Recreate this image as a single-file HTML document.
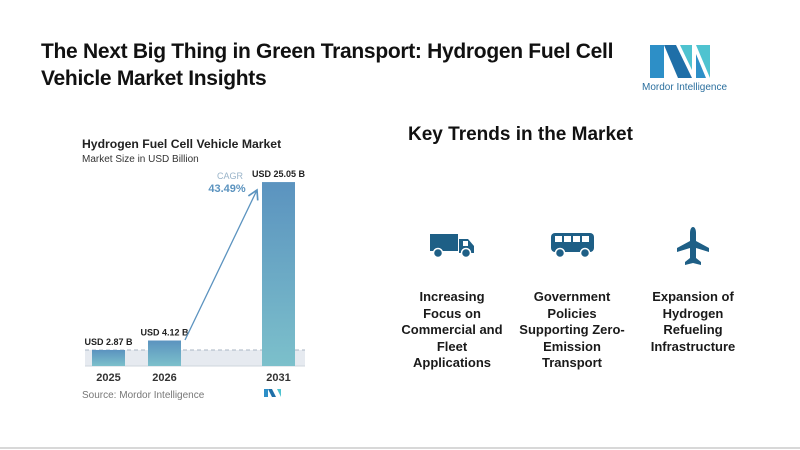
<!DOCTYPE html>
<html><head><meta charset="utf-8"><style>
body{margin:0;width:800px;height:450px;background:#fff;font-family:"Liberation Sans",sans-serif;overflow:hidden;position:relative}
.t{position:absolute;left:41px;top:38px;font-size:21px;font-weight:bold;color:#111;line-height:27px;letter-spacing:-0.3px}
.kt{position:absolute;left:408px;top:124px;font-size:19px;font-weight:bold;color:#111}
.item{position:absolute;width:120px;text-align:center;font-size:13px;font-weight:bold;color:#1a1a1a;line-height:16.5px}
</style></head><body>
<div class="t">The Next Big Thing in Green Transport: Hydrogen Fuel Cell<br>Vehicle Market Insights</div>
<svg style="position:absolute;left:640px;top:40px" width="90" height="55">
<polygon points="10,5 24,5 24,38 10,38" fill="#2d8fc7"/><polygon points="24,5 36,5 52,38 38,38" fill="#1f6fa8"/>
<polygon points="40,5 52,5 52,30" fill="#4fc3d0"/><polygon points="56,5 70,5 70,38" fill="#4fc3d0"/><polygon points="56,14 56,38 66,38" fill="#2d8fc7"/>
<text x="2" y="50" font-size="10" fill="#2b6f9e" font-family="Liberation Sans">Mordor Intelligence</text></svg>
<div style="position:absolute;left:0;bottom:1px;width:800px;height:2px;background:#d8d8d8"></div>

<svg id="chart" style="position:absolute;left:0;top:0" width="400" height="450">
<defs><linearGradient id="g" x1="0" y1="0" x2="0" y2="1"><stop offset="0" stop-color="#5b93bf"/><stop offset="1" stop-color="#7cc0cb"/></linearGradient>
<marker id="ah" markerWidth="10" markerHeight="10" refX="8" refY="5" orient="auto"><path d="M1,1 L8,5 L1,9" fill="none" stroke="#5b93bf" stroke-width="1.3"/></marker></defs>
<text x="82" y="148" font-size="12.2" font-weight="bold" fill="#222">Hydrogen Fuel Cell Vehicle Market</text>
<text x="82" y="162" font-size="10" fill="#333">Market Size in USD Billion</text>
<rect x="85" y="350" width="220" height="16" fill="#e6eaf0"/>
<line x1="85" y1="350" x2="305" y2="350" stroke="#a9b6c3" stroke-dasharray="4,3"/>
<line x1="85" y1="366" x2="305" y2="366" stroke="#cfd6dd"/>
<g id="bars"></g>
<line x1="185" y1="340" x2="257" y2="190" stroke="#5b93bf" stroke-width="1.3" marker-end="url(#ah)"/>
<text x="230" y="179" font-size="9" fill="#9ab4c9" text-anchor="middle">CAGR</text>
<text x="227" y="192" font-size="11" font-weight="bold" fill="#5b93bf" text-anchor="middle">43.49%</text>
<text x="82" y="398" font-size="10" fill="#777">Source:  Mordor Intelligence</text>
<g><polygon points="264,389 268,389 268,397 264,397" fill="#2d8fc7"/><polygon points="268,389 272,389 276,397 272,397" fill="#1f6fa8"/><polygon points="277,389 281,389 281,397" fill="#4fc3d0"/></g>
</svg>
<script>
const years=["2025","2026","2031"];
const values=[2.87,4.12,25.05];
const labels=["USD 2.87 B","USD 4.12 B","USD 25.05 B"];
const xs={"2025":92,"2026":148,"2031":262};
function y(v){return 366-(v*7.57-5.7);}
const g=document.getElementById('bars');const ns="http://www.w3.org/2000/svg";
years.forEach((yr,i)=>{
 const r=document.createElementNS(ns,'rect');
 
 
 const top=y(values[i]);r.setAttribute('x',xs[yr]);r.setAttribute('y',top);r.setAttribute('width',33);r.setAttribute('height',366-top);r.setAttribute('fill','url(#g)');g.appendChild(r);
 const t=document.createElementNS(ns,'text');
 
 
 t.setAttribute('x',xs[yr]+16.5);t.setAttribute('y',top-5);t.setAttribute('font-size','9');t.setAttribute('font-weight','bold');t.setAttribute('fill','#222');t.setAttribute('text-anchor','middle');t.textContent=labels[i];g.appendChild(t);
 const a=document.createElementNS(ns,'text');
 
 
 a.setAttribute('x',xs[yr]+16.5);a.setAttribute('y',381);a.setAttribute('font-size','11');a.setAttribute('font-weight','bold');a.setAttribute('fill','#333');a.setAttribute('text-anchor','middle');a.textContent=yr;g.appendChild(a);
});
</script>

<div class="kt">Key Trends in the Market</div>
<svg style="position:absolute;left:430px;top:232px" width="44" height="26"><rect x="0" y="2" width="28" height="17" fill="#1e5f86"/><path d="M29,7 H38 L44,14 V21 H29 Z" fill="#1e5f86"/><rect x="33" y="9" width="5" height="5" fill="#fff"/><circle cx="8" cy="21" r="4.5" fill="#1e5f86" stroke="#fff" stroke-width="1.5"/><circle cx="36" cy="21" r="4.5" fill="#1e5f86" stroke="#fff" stroke-width="1.5"/></svg>
<svg style="position:absolute;left:551px;top:232px" width="44" height="26"><rect x="0" y="1" width="43" height="19" rx="4" fill="#1e5f86"/><rect x="4" y="4" width="7" height="6" fill="#fff"/><rect x="13" y="4" width="7" height="6" fill="#fff"/><rect x="22" y="4" width="7" height="6" fill="#fff"/><rect x="31" y="4" width="7" height="6" fill="#fff"/><circle cx="9" cy="21" r="4.5" fill="#1e5f86" stroke="#fff" stroke-width="1.5"/><circle cx="34" cy="21" r="4.5" fill="#1e5f86" stroke="#fff" stroke-width="1.5"/></svg>
<svg style="position:absolute;left:676px;top:226px" width="34" height="40"><path d="M17,1 C19,1 20,4 20,7 V15 L33,22 V26 L20,22 V32 L25,36 V39 L17,37 L9,39 V36 L14,32 V22 L1,26 V22 L14,15 V7 C14,4 15,1 17,1 Z" fill="#1e5f86"/></svg>
<div class="item" style="left:392px;top:289px">Increasing<br>Focus on<br>Commercial and<br>Fleet<br>Applications</div>
<div class="item" style="left:512px;top:289px">Government<br>Policies<br>Supporting Zero-<br>Emission<br>Transport</div>
<div class="item" style="left:633px;top:289px">Expansion of<br>Hydrogen<br>Refueling<br>Infrastructure</div>
</body></html>
